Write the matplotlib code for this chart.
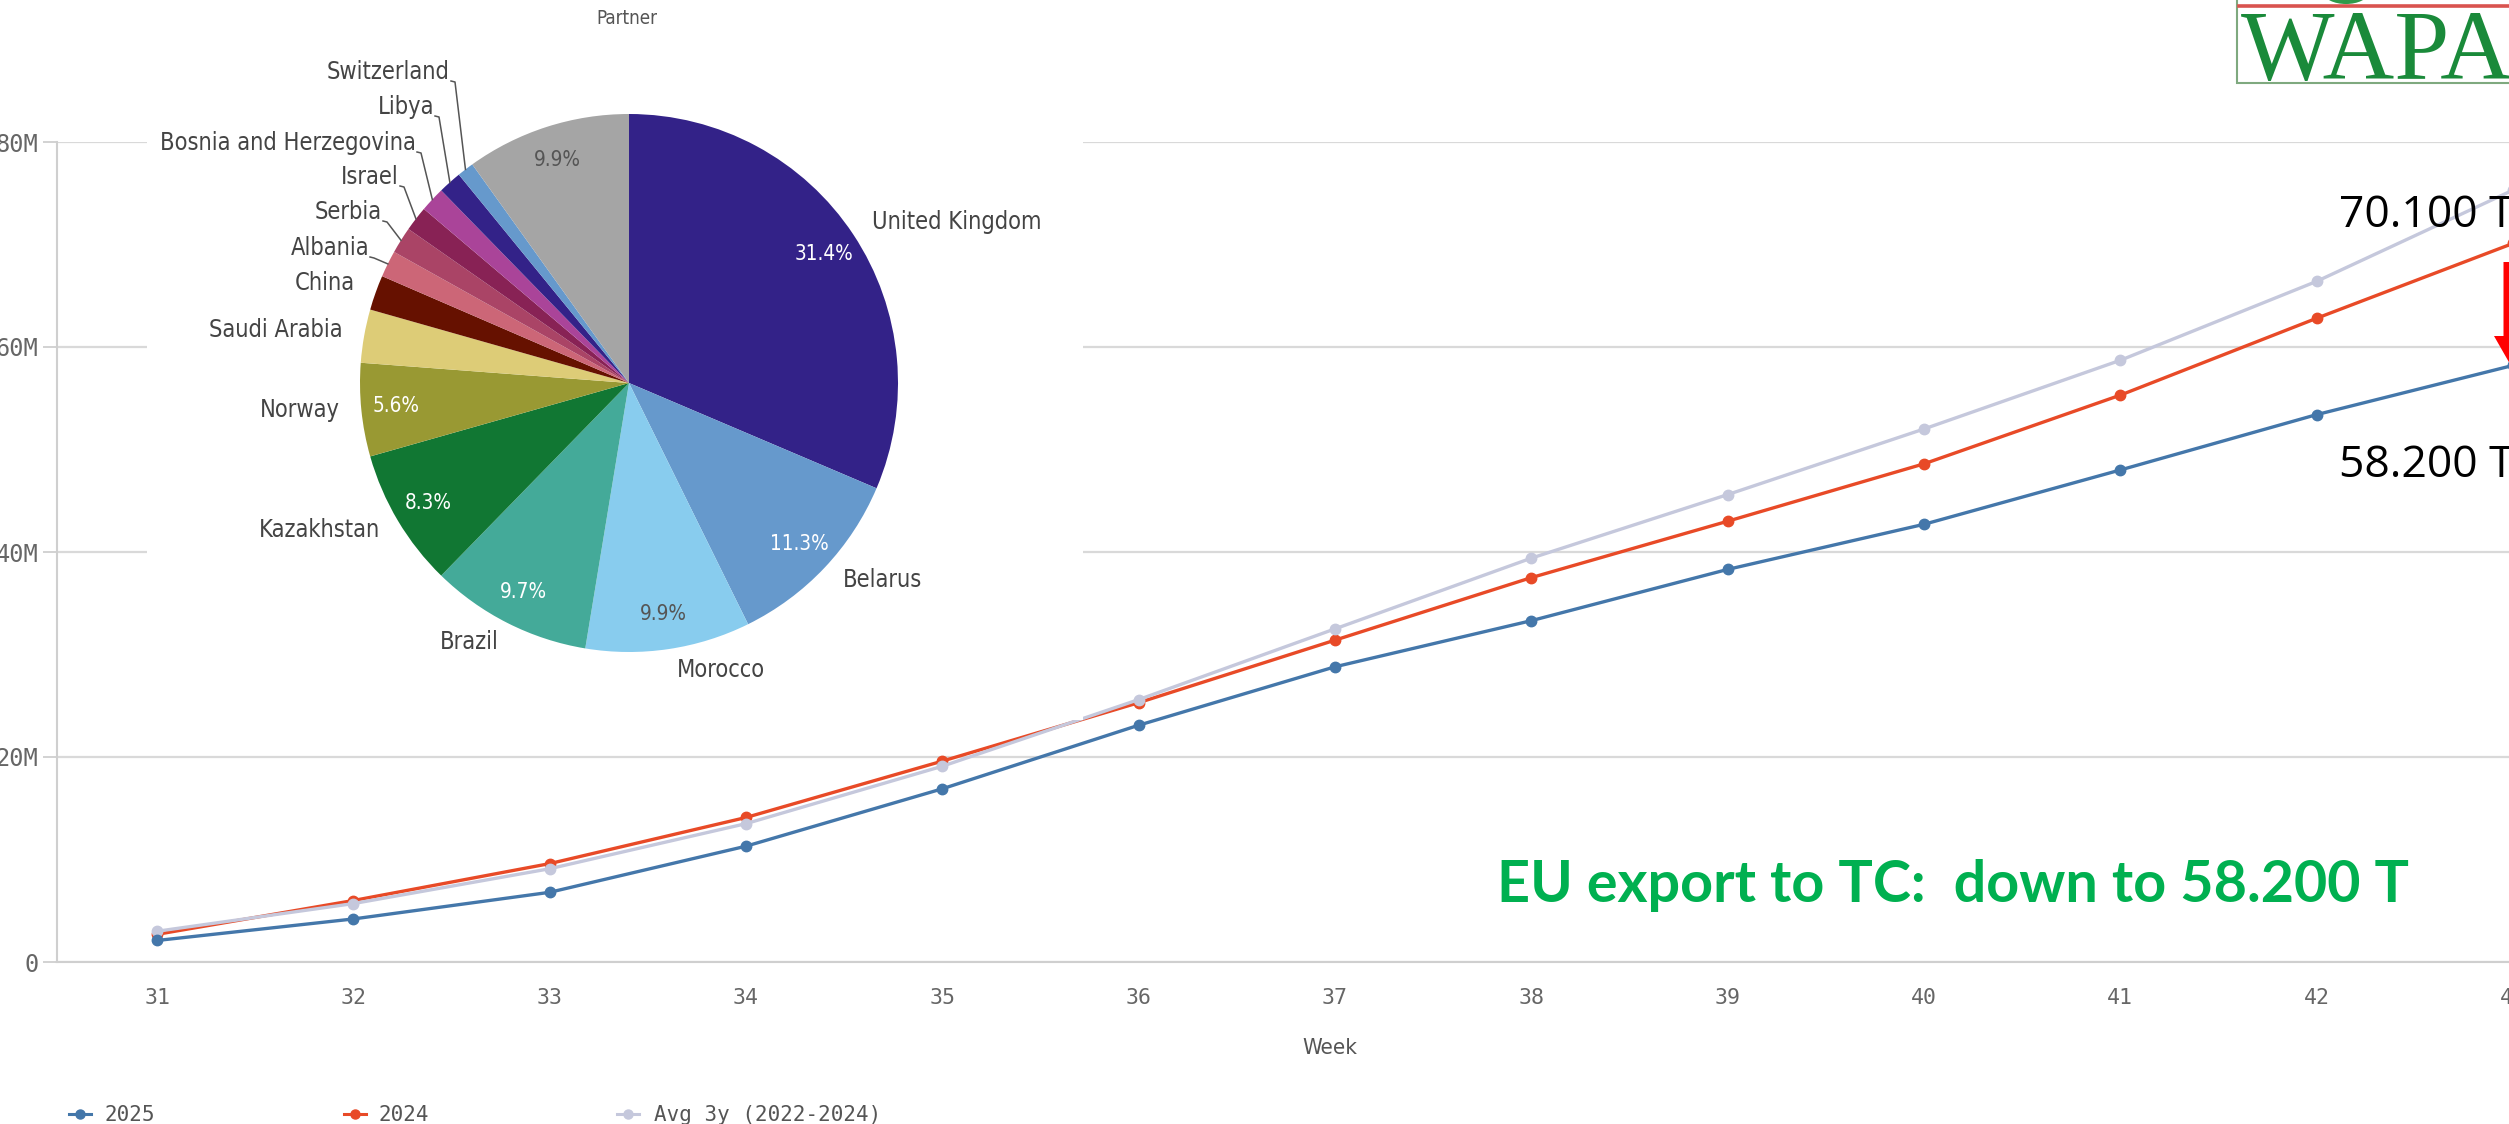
import numpy as np
import matplotlib
matplotlib.use("Agg")
import matplotlib.pyplot as plt
from matplotlib.patches import Rectangle, FancyArrow, Ellipse

# ---------------- data ----------------
weeks = list(range(31, 44))
export_2025 = [2.1, 4.2, 6.8, 11.3, 16.9, 23.1, 28.8, 33.3, 38.3, 42.7, 48.0, 53.4, 58.2]
export_2024 = [2.7, 6.0, 9.6, 14.1, 19.6, 25.3, 31.4, 37.5, 43.0, 48.6, 55.3, 62.8, 70.1]
export_avg3y = [3.0, 5.7, 9.1, 13.5, 19.1, 25.6, 32.5, 39.4, 45.6, 52.0, 58.7, 66.4, 75.3]
series_names = ["2025", "2024", "Avg 3y (2022-2024)"]
ytick_values = [0, 20, 40, 60, 80]
ytick_labels = ["0", "20M", "40M", "60M", "80M"]

partners = ["United Kingdom", "Belarus", "Morocco", "Brazil", "Kazakhstan", "Norway",
            "Saudi Arabia", "China", "Albania", "Serbia", "Israel",
            "Bosnia and Herzegovina", "Libya", "Switzerland", "Others"]
shares = [31.4, 11.3, 9.9, 9.7, 8.3, 5.6, 3.2, 2.1, 1.6, 1.6, 1.5, 1.5, 1.4, 1.0, 9.9]

note_2024 = "70.100 T"
note_2025 = "58.200 T"
headline = "EU export to TC:  down to 58.200 T"

# ---------------- style ----------------
W, H = 2509, 1124
C2025, C2024, CAVG = "#4477AA", "#E84A27", "#C5C8DC"
pie_colors = ["#332288", "#6699CC", "#88CCEE", "#44AA99", "#117733", "#999933",
              "#DDCC77", "#661100", "#CC6677", "#AA4466", "#882255", "#AA4499",
              "#332288", "#6699CC", "#A5A5A5"]
pct_colors = ["white", "white", "#555555", "white", "white", "white",
              None, None, None, None, None, None, None, None, "#555555"]
GRID = "#D9D9D9"
TXT = "#666666"
MONO = "DejaVu Sans Mono"
COND = dict(family="DejaVu Sans", stretch="condensed")

fig = plt.figure(figsize=(W / 100, H / 100), dpi=100)
fig.patch.set_facecolor("white")

# ---------------- main line chart ----------------
xl, xr, yt, yb = 57, 2611, 142, 962
ax = fig.add_axes([xl / W, 1 - yb / H, (xr - xl) / W, (yb - yt) / H], zorder=1)
ax.set_xlim(30.49, 43.5)
ax.set_ylim(0, 80)
ax.set_yticks(ytick_values)
ax.set_yticklabels(ytick_labels)
ax.set_xticks(weeks)
ax.set_xticklabels([str(w) for w in weeks])
ax.yaxis.grid(True, color=GRID, lw=1.6)
ax.set_axisbelow(True)
for s in ["top", "right"]:
    ax.spines[s].set_visible(False)
for s in ["left", "bottom"]:
    ax.spines[s].set_color("#CFCFCF")
    ax.spines[s].set_linewidth(1.5)
ax.tick_params(axis="y", length=10, width=1.3, color="#CFCFCF", labelcolor=TXT,
               labelsize=17, pad=3.5)
ax.tick_params(axis="x", length=0, labelcolor=TXT, labelsize=15.5, pad=19)
for t in ax.get_xticklabels() + ax.get_yticklabels():
    t.set_fontfamily(MONO)

ax.plot(weeks, export_2024, color=C2024, lw=2.4, marker="o", ms=7.5, zorder=3)
ax.plot(weeks, export_avg3y, color=CAVG, lw=2.4, marker="o", ms=7.5, zorder=4)
ax.plot(weeks, export_2025, color=C2025, lw=2.4, marker="o", ms=7.5, zorder=5)

# ---------------- overlay in pixel coordinates ----------------
ov = fig.add_axes([0, 0, 1, 1], zorder=10)
ov.set_xlim(0, W)
ov.set_ylim(H, 0)
ov.axis("off")
renderer = fig.canvas.get_renderer()


def fit(t, target):
    bb = t.get_window_extent(renderer)
    t.set_fontsize(t.get_fontsize() * target / bb.width)
    return t

# ---------------- pie panel ----------------
cx, cy, R = 629, 383, 269
pl, pr, pb = 147, 1083, 720
pa = fig.add_axes([pl / W, 1 - pb / H, (pr - pl) / W, pb / H], zorder=5)
pa.pie(shares, colors=pie_colors, startangle=90, counterclock=False, radius=R,
       wedgeprops=dict(linewidth=0))
pa.set_xlim(pl - cx, pr - cx)
pa.set_ylim(cy - pb, cy)
pa.set_frame_on(True)
pa.set_facecolor("white")
for s in pa.spines.values():
    s.set_visible(False)
pa.set_xticks([])
pa.set_yticks([])

cum = np.concatenate([[0], np.cumsum(shares)]) / np.sum(shares)
mid_theta = [np.deg2rad(90 - 360 * (cum[i] + cum[i + 1]) / 2) for i in range(len(shares))]

# size of the pie labels
probe = ov.text(0, 0, "Bosnia and Herzegovina", fontsize=16, **COND)
fit(probe, 258)
lab_fs = probe.get_fontsize()
probe.remove()

for i, v in enumerate(shares):
    if pct_colors[i] is None:
        continue
    th = mid_theta[i]
    px = cx + 0.87 * R * np.cos(th)
    py = cy - 0.87 * R * np.sin(th)
    ov.text(px, py, f"{v:.1f}%", ha="center", va="center", color=pct_colors[i],
            fontsize=lab_fs * 0.88, **COND)

label_pos = {
    "United Kingdom": (872, 222, "left"),
    "Belarus": (843, 580, "left"),
    "Morocco": (721, 670, "center"),
    "Brazil": (469, 642, "center"),
    "Kazakhstan": (380, 530, "right"),
    "Norway": (340, 410, "right"),
    "Saudi Arabia": (343, 330, "right"),
    "China": (355, 283, "right"),
    "Albania": (369, 248, "right"),
    "Serbia": (382, 212, "right"),
    "Israel": (399, 177, "right"),
    "Bosnia and Herzegovina": (416, 143, "right"),
    "Libya": (434, 107, "right"),
    "Switzerland": (450, 72, "right"),
}
leader = {"Albania", "Serbia", "Israel", "Bosnia and Herzegovina", "Libya", "Switzerland"}
for i, name in enumerate(partners):
    if name not in label_pos:
        continue
    x, y, ha = label_pos[name]
    ov.text(x, y, name, ha=ha, va="center", color="#444444", fontsize=lab_fs, **COND)
    if name in leader:
        th = mid_theta[i]
        rx = cx + R * np.cos(th)
        ry = cy - R * np.sin(th)
        ov.plot([x + 1, x + 5, rx], [y + 9, y + 10, ry], color="#555555", lw=1.1)

ov.text(627, 19, "Partner", ha="center", va="center", color="#555555",
        fontsize=lab_fs * 0.8, **COND)

# ---------------- annotations ----------------
t1 = ov.text(2339, 216, note_2024, ha="left", va="center", color="black",
             fontsize=32, family="Open Sans")
t2 = ov.text(2339, 466, note_2025, ha="left", va="center", color="black",
             fontsize=32, family="Open Sans")
g = ov.text(1497, 885, headline, ha="left", va="center", color="#00B050",
            fontsize=40, family="Lato", weight="bold")
fit(g, 912)

ov.add_patch(FancyArrow(2510, 262, 0, 102, width=13, head_width=32, head_length=28,
                        length_includes_head=True, color="#FF0000", lw=0))

# ---------------- logo ----------------
ov.add_patch(Rectangle((2237, -10), 320, 93, facecolor="white", edgecolor="#7FA97F", lw=1.5))
ov.add_patch(Ellipse((2346, -7), 44, 22, facecolor="#2E9A4A", edgecolor="none"))
ov.plot([2239, 2509], [6, 6], color="#D9534F", lw=2.6)
logo = ov.text(2241, 79, "WAPA", ha="left", va="baseline", color="#1A8A3A",
               fontsize=60, family="Liberation Serif")
fit(logo, 272)

# ---------------- axis title & legend ----------------
ov.text(1330, 1048, "Week", ha="center", va="center", color="#555555",
        fontsize=16, **COND)
leg = [(80, 105, C2025), (355, 379, C2024), (628, 654, CAVG)]
for (mx, tx, col), name in zip(leg, series_names):
    ov.plot([mx - 11, mx + 11], [1114, 1114], color=col, lw=2.2)
    ov.plot([mx], [1114], "o", color=col, ms=6.5)
    ov.text(tx, 1115, name, ha="left", va="center", color="#555555",
            fontsize=15, family=MONO)

fig.savefig("out.png", dpi=100, facecolor="white")
